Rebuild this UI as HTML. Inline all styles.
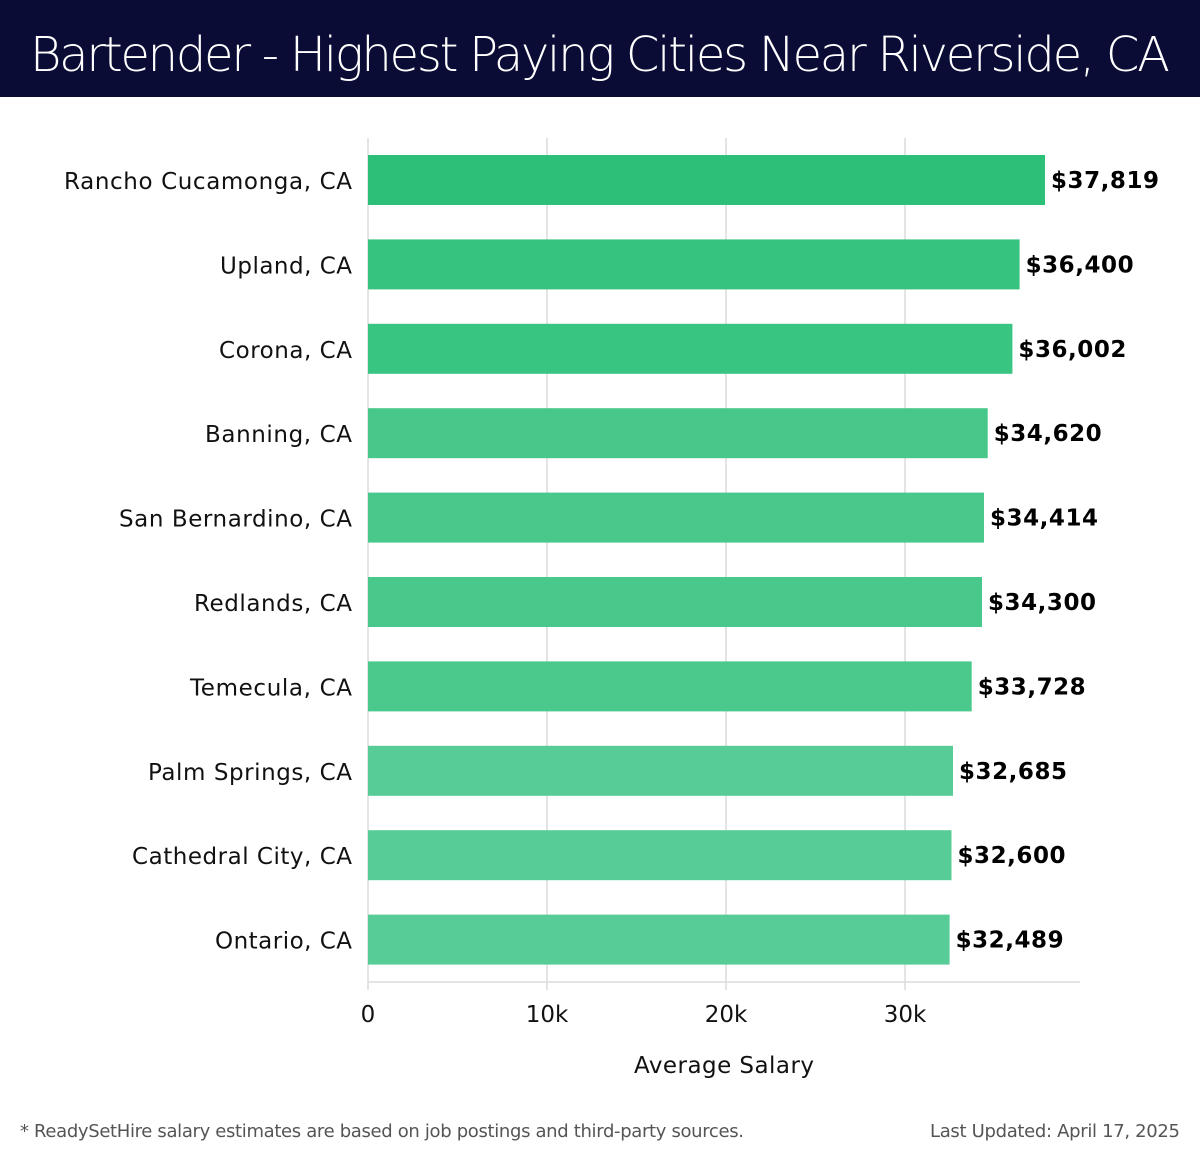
<!DOCTYPE html>
<html><head><meta charset="utf-8"><style>
body{margin:0;background:#fff;}
svg{display:block;font-family:"DejaVu Sans","Liberation Sans",sans-serif;}
</style></head><body>
<svg width="1200" height="1158" viewBox="0 0 1200 1158" xmlns="http://www.w3.org/2000/svg">
<rect x="0" y="0" width="1200" height="97" fill="#0b0c35"/>
<text x="600" y="71" font-size="48" fill="#fff" text-anchor="middle" font-family="DejaVu Sans, sans-serif" font-weight="300" textLength="1140">Bartender - Highest Paying Cities Near Riverside, CA</text>
<g stroke="#dcdcdc" stroke-width="1.5">
<line x1="368" y1="138" x2="368" y2="990"/>
<line x1="547" y1="138" x2="547" y2="990"/>
<line x1="726" y1="138" x2="726" y2="990"/>
<line x1="905" y1="138" x2="905" y2="990"/>
<line x1="368" y1="982" x2="1080" y2="982"/>
</g>
<g>
<rect x="368" y="155" width="677" height="50" fill="#2bbf77"/>
<rect x="368" y="239.4" width="651.6" height="50" fill="#36c37f"/>
<rect x="368" y="323.8" width="644.4" height="50" fill="#38c481"/>
<rect x="368" y="408.2" width="619.7" height="50" fill="#47c88a"/>
<rect x="368" y="492.6" width="616" height="50" fill="#49c88b"/>
<rect x="368" y="577" width="614" height="50" fill="#49c88b"/>
<rect x="368" y="661.4" width="603.7" height="50" fill="#4bc98c"/>
<rect x="368" y="745.8" width="585" height="50" fill="#57cc96"/>
<rect x="368" y="830.2" width="583.5" height="50" fill="#57cc96"/>
<rect x="368" y="914.6" width="581.6" height="50" fill="#57cc96"/>
</g>
<g font-size="23" fill="#111" lengthAdjust="spacingAndGlyphs">
<text x="64" y="189" textLength="288">Rancho Cucamonga, CA</text>
<text x="220" y="273.4" textLength="132">Upland, CA</text>
<text x="219" y="357.8" textLength="133">Corona, CA</text>
<text x="205" y="442.2" textLength="147">Banning, CA</text>
<text x="119" y="526.6" textLength="233">San Bernardino, CA</text>
<text x="194" y="611" textLength="158">Redlands, CA</text>
<text x="190" y="695.4" textLength="162">Temecula, CA</text>
<text x="148" y="779.8" textLength="204">Palm Springs, CA</text>
<text x="132" y="864.2" textLength="220">Cathedral City, CA</text>
<text x="215" y="948.6" textLength="137">Ontario, CA</text>
</g>
<g font-size="23" fill="#000" font-weight="bold">
<text x="1051" y="188" textLength="108">$37,819</text>
<text x="1025.6" y="272.4" textLength="108">$36,400</text>
<text x="1018.4" y="356.8" textLength="108">$36,002</text>
<text x="993.7" y="441.2" textLength="108">$34,620</text>
<text x="990" y="525.6" textLength="108">$34,414</text>
<text x="988" y="610" textLength="108">$34,300</text>
<text x="977.7" y="694.4" textLength="108">$33,728</text>
<text x="959" y="778.8" textLength="108">$32,685</text>
<text x="957.5" y="863.2" textLength="108">$32,600</text>
<text x="955.6" y="947.6" textLength="108">$32,489</text>
</g>
<g font-size="23" fill="#111" text-anchor="middle">
<text x="368" y="1022">0</text>
<text x="547" y="1022">10k</text>
<text x="726" y="1022">20k</text>
<text x="905" y="1022">30k</text>
<text x="724" y="1073" textLength="180">Average Salary</text>
</g>
<text x="20" y="1137" font-size="18" fill="#555" textLength="724">* ReadySetHire salary estimates are based on job postings and third-party sources.</text>
<text x="930" y="1137" font-size="18" fill="#555" textLength="250">Last Updated: April 17, 2025</text>
</svg>
</body></html>
